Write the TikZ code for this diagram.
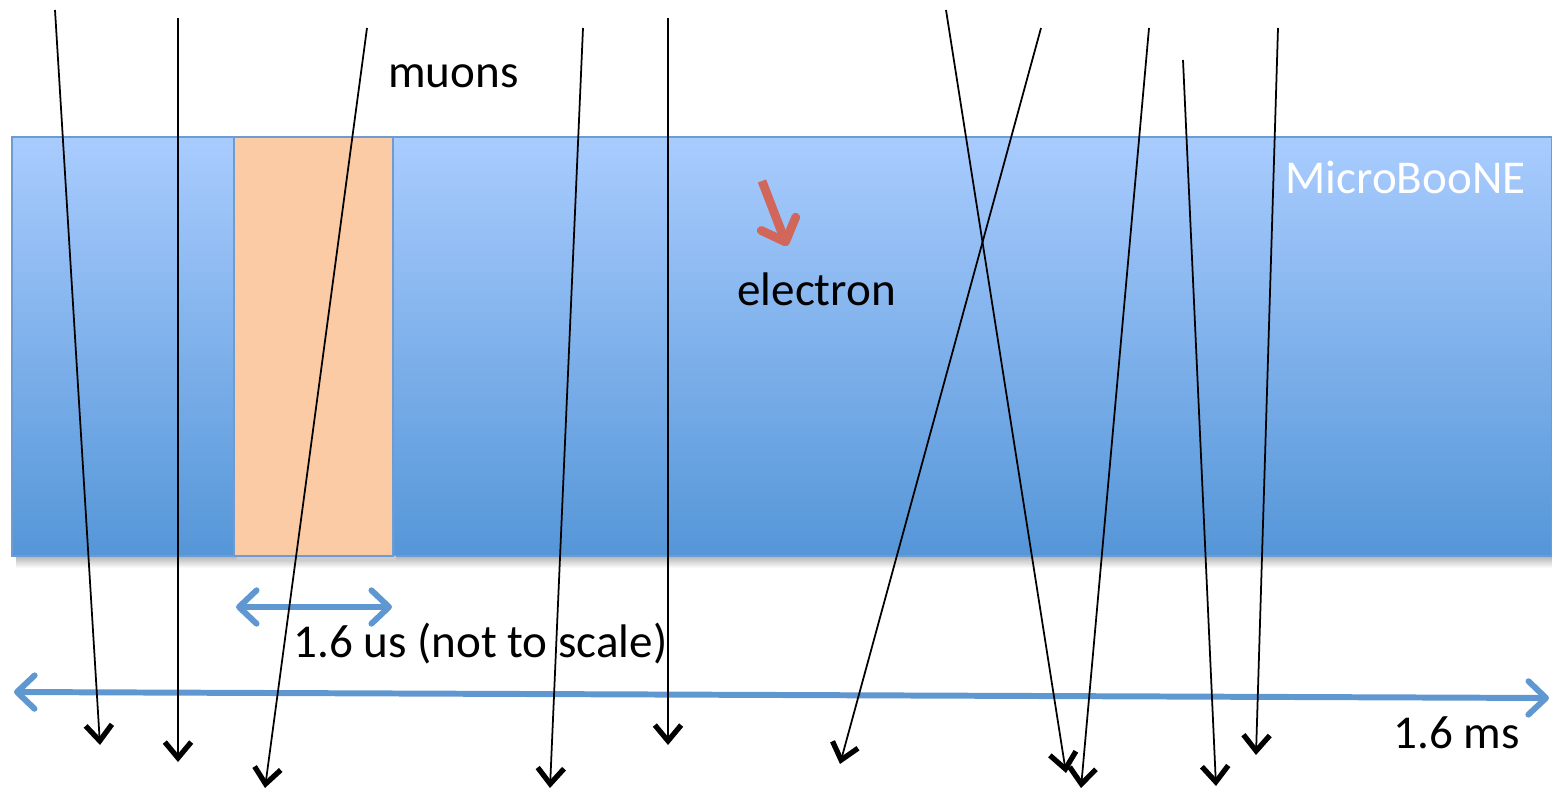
\documentclass[tikz,border=0pt]{standalone}
\usepackage{fontspec}
\setmainfont{Carlito}
\usetikzlibrary{arrows.meta}
\definecolor{bandtop}{HTML}{A9CCFE}
\definecolor{bandbot}{HTML}{5596D8}
\definecolor{bandedge}{HTML}{6E9BD2}
\definecolor{pulse}{HTML}{FACBA4}
\definecolor{tblue}{HTML}{5F97D1}
\definecolor{ered}{HTML}{D0675A}
\tikzset{
  muon/.style={black, line width=1pt, -{Straight Barb[length=9pt,width=15pt,line width=3pt]}},
  timearrow/.style={tblue, line width=3.4pt, {Straight Barb[length=10pt,width=19pt,round]}-{Straight Barb[length=10pt,width=19pt,round]}},
  lbl/.style={font=\fontsize{26.8}{30}\selectfont, inner sep=0pt, anchor=base west}
}
\begin{document}
\begin{tikzpicture}[x=0.02cm,y=-0.02cm]
\useasboundingbox (0,0) rectangle (1552,791);
% shadow under band
\shade[top color=black!30, bottom color=white] (16,556) rectangle (1552,568);
% detector band
\shade[top color=bandtop, bottom color=bandbot] (12,137) rectangle (1552,556);
\draw[bandedge, line width=1.2pt] (12,137) rectangle (1552,556);
% readout window
\fill[black!20] (237,556) rectangle (396,561);
\draw[bandedge, line width=1.2pt, fill=pulse] (234,137) rectangle (393,556);
% labels
\node[lbl, text=white] (mb) at (1285,193) {MicroBooNE};
\node[lbl] (mu) at (388,87) {muons};
\node[lbl] (el) at (737,305) {electron};
\node[lbl] (us) at (293,657) {1.6 us (not to scale)};
\node[lbl] (ms) at (1393,748) {1.6 ms};
% electron track
\coordinate (e1) at (762,181);
\coordinate (e2) at (787,246);
\draw[ered, line width=5pt, -{Straight Barb[length=11pt,width=21pt,round]}] (e1) -- (e2);
% time arrows
\coordinate (s1) at (236,607);
\coordinate (s2) at (392,607);
\draw[timearrow] (s1) -- (s2);
\coordinate (l1) at (14,692);
\coordinate (l2) at (1549,698);
\draw[timearrow] (l1) -- (l2);
% muons
\foreach \n/\xa/\ya/\xb/\yb in {1/55/10/100/745, 2/178/18/178/762, 3/367/28/265/788, 4/583/28/550/788, 5/668/18/668/745, 6/1041/28/840/764, 7/946/10/1066/773, 8/1149/28/1081/788, 9/1183/60/1216/786, 10/1278/28/1256/755}{
  \coordinate (m\n a) at (\xa,\ya);
  \coordinate (m\n b) at (\xb,\yb);
  \draw[muon] (m\n a) -- (m\n b);
}
\end{tikzpicture}
\end{document}
